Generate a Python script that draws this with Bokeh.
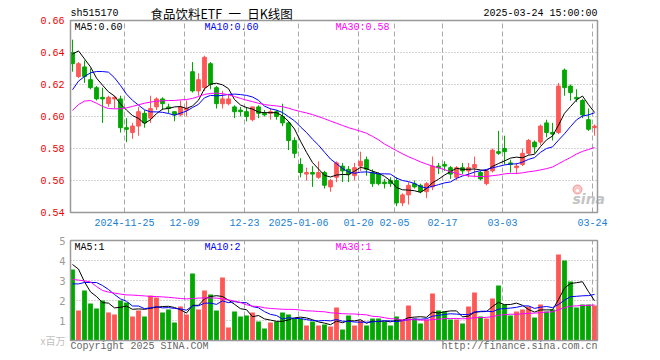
from bokeh.plotting import figure
from bokeh.models import Range1d, ColumnDataSource
from bokeh.core.properties import value
from bokeh.embed import file_html
from bokeh.resources import INLINE

# ---------------- data ----------------
dates = [
    "2024-11-12", "2024-11-13", "2024-11-14", "2024-11-15", "2024-11-18", "2024-11-19", "2024-11-20",
    "2024-11-21", "2024-11-22", "2024-11-25", "2024-11-26", "2024-11-27", "2024-11-28", "2024-11-29",
    "2024-12-02", "2024-12-03", "2024-12-04", "2024-12-05", "2024-12-06", "2024-12-09", "2024-12-10",
    "2024-12-11", "2024-12-12", "2024-12-13", "2024-12-16", "2024-12-17", "2024-12-18", "2024-12-19",
    "2024-12-20", "2024-12-23", "2024-12-24", "2024-12-25", "2024-12-26", "2024-12-27", "2024-12-30",
    "2024-12-31", "2025-01-02", "2025-01-03", "2025-01-06", "2025-01-07", "2025-01-08", "2025-01-09",
    "2025-01-10", "2025-01-13", "2025-01-14", "2025-01-15", "2025-01-16", "2025-01-17", "2025-01-20",
    "2025-01-21", "2025-01-22", "2025-01-23", "2025-01-24", "2025-01-27", "2025-02-05", "2025-02-06",
    "2025-02-07", "2025-02-10", "2025-02-11", "2025-02-12", "2025-02-13", "2025-02-14", "2025-02-17",
    "2025-02-18", "2025-02-19", "2025-02-20", "2025-02-21", "2025-02-24", "2025-02-25", "2025-02-26",
    "2025-02-27", "2025-02-28", "2025-03-03", "2025-03-04", "2025-03-05", "2025-03-06", "2025-03-07",
    "2025-03-10", "2025-03-11", "2025-03-12", "2025-03-13", "2025-03-14", "2025-03-17", "2025-03-18",
    "2025-03-19", "2025-03-20", "2025-03-21", "2025-03-24",
]

open_ = [0.640, 0.625, 0.631, 0.623, 0.618, 0.612, 0.608, 0.611, 0.611, 0.593,
         0.590, 0.594, 0.602, 0.599, 0.606, 0.611, 0.606, 0.603, 0.601, 0.604,
         0.628, 0.616, 0.618, 0.633, 0.618, 0.608, 0.608, 0.606, 0.604, 0.603,
         0.598, 0.606, 0.602, 0.602, 0.603, 0.600, 0.596, 0.585, 0.570, 0.564,
         0.565, 0.562, 0.565, 0.556, 0.562, 0.569, 0.567, 0.563, 0.569, 0.573,
         0.565, 0.564, 0.559, 0.560, 0.560, 0.546, 0.551, 0.558, 0.557, 0.553,
         0.556, 0.569, 0.570, 0.568, 0.562, 0.568, 0.566, 0.568, 0.565, 0.558,
         0.566, 0.578, 0.580, 0.571, 0.568, 0.570, 0.577, 0.584, 0.584, 0.596,
         0.590, 0.590, 0.629, 0.619, 0.612, 0.610, 0.598, 0.593]
high = [0.648, 0.634, 0.635, 0.630, 0.619, 0.618, 0.613, 0.613, 0.613, 0.599,
        0.596, 0.606, 0.604, 0.613, 0.612, 0.612, 0.608, 0.603, 0.610, 0.610,
        0.634, 0.627, 0.638, 0.634, 0.619, 0.616, 0.614, 0.607, 0.606, 0.606,
        0.606, 0.607, 0.604, 0.605, 0.604, 0.608, 0.597, 0.587, 0.574, 0.568,
        0.569, 0.572, 0.566, 0.561, 0.572, 0.571, 0.569, 0.571, 0.578, 0.575,
        0.567, 0.565, 0.561, 0.562, 0.562, 0.552, 0.559, 0.560, 0.558, 0.559,
        0.575, 0.571, 0.572, 0.569, 0.569, 0.571, 0.571, 0.575, 0.566, 0.567,
        0.580, 0.591, 0.588, 0.573, 0.571, 0.580, 0.586, 0.585, 0.595, 0.598,
        0.596, 0.621, 0.630, 0.620, 0.617, 0.611, 0.605, 0.595]
low = [0.628, 0.624, 0.621, 0.617, 0.610, 0.596, 0.606, 0.605, 0.590, 0.584,
       0.586, 0.588, 0.593, 0.596, 0.604, 0.604, 0.602, 0.597, 0.600, 0.600,
       0.615, 0.613, 0.616, 0.617, 0.605, 0.605, 0.607, 0.599, 0.600, 0.597,
       0.597, 0.599, 0.600, 0.598, 0.598, 0.594, 0.579, 0.574, 0.562, 0.560,
       0.556, 0.561, 0.555, 0.553, 0.559, 0.559, 0.559, 0.560, 0.566, 0.563,
       0.556, 0.557, 0.555, 0.556, 0.544, 0.544, 0.545, 0.555, 0.552, 0.549,
       0.554, 0.564, 0.566, 0.561, 0.560, 0.564, 0.562, 0.562, 0.560, 0.557,
       0.565, 0.576, 0.570, 0.565, 0.564, 0.569, 0.576, 0.577, 0.582, 0.587,
       0.585, 0.589, 0.613, 0.610, 0.609, 0.599, 0.591, 0.588]
close = [0.633, 0.633, 0.625, 0.618, 0.611, 0.611, 0.612, 0.612, 0.593, 0.592,
         0.594, 0.603, 0.596, 0.605, 0.611, 0.608, 0.605, 0.601, 0.606, 0.605,
         0.616, 0.623, 0.637, 0.620, 0.608, 0.611, 0.611, 0.603, 0.603, 0.600,
         0.606, 0.602, 0.601, 0.603, 0.600, 0.596, 0.585, 0.577, 0.565, 0.565,
         0.564, 0.565, 0.557, 0.560, 0.571, 0.566, 0.564, 0.568, 0.572, 0.567,
         0.558, 0.558, 0.558, 0.558, 0.546, 0.551, 0.557, 0.556, 0.553, 0.558,
         0.569, 0.568, 0.569, 0.564, 0.568, 0.566, 0.568, 0.570, 0.561, 0.566,
         0.579, 0.577, 0.578, 0.570, 0.569, 0.577, 0.585, 0.581, 0.594, 0.590,
         0.589, 0.619, 0.618, 0.615, 0.611, 0.601, 0.592, 0.594]
# volume, millions of shares
volume = [3.55, 1.50, 2.50, 1.85, 1.60, 2.00, 1.40, 1.30, 2.00, 1.90,
          1.20, 1.50, 1.20, 2.25, 2.15, 1.40, 1.55, 0.90, 1.70, 1.30,
          3.35, 1.55, 2.50, 2.30, 1.50, 3.15, 0.65, 1.45, 1.20, 1.25,
          1.40, 0.95, 0.60, 0.90, 0.95, 1.40, 1.30, 1.10, 1.10, 0.75,
          0.95, 0.75, 0.80, 0.70, 1.65, 0.55, 1.25, 0.75, 1.00, 0.75,
          1.10, 1.10, 0.95, 0.75, 1.20, 1.05, 1.75, 1.10, 0.85, 1.05,
          2.35, 1.50, 1.45, 1.05, 1.05, 0.85, 1.70, 2.40, 1.20, 1.10,
          2.10, 2.75, 1.80, 1.25, 1.45, 1.55, 1.70, 1.15, 1.80, 1.45,
          1.55, 4.30, 4.00, 2.95, 1.65, 1.80, 1.80, 1.75]

# moving-average values at the left edge (they need days before the window)
ma5_head = [0.639, 0.641, 0.636, 0.631]
ma10_head = [0.6167, 0.6221, 0.6250, 0.6273, 0.6281, 0.6281, 0.6277, 0.6242, 0.6194]
ma30_head = [0.6038, 0.6075, 0.6096, 0.6100, 0.6083, 0.6063, 0.6050, 0.6048, 0.6048, 0.6054,
             0.6063, 0.6073, 0.6083, 0.6090, 0.6096, 0.6098, 0.6100, 0.6100, 0.6104, 0.6106,
             0.6113, 0.6125, 0.6138, 0.6144, 0.6146, 0.6142, 0.6136, 0.6125, 0.6113]
vma5_head = [3.80, 3.57, 2.93, 2.43]
vma10_head = [2.83, 2.83, 2.90, 2.90, 2.90, 2.75, 2.55, 2.30, 2.08]
vma30_head = [3.05, 3.02, 2.98, 2.93, 2.70, 2.50, 2.42, 2.37, 2.32, 2.28,
              2.27, 2.25, 2.23, 2.20, 2.20, 2.18, 2.16, 2.13, 2.10, 2.08,
              2.10, 2.12, 2.13, 2.13, 2.12, 2.08, 2.03, 1.97, 1.90]

tick_dates = ["2024-11-25", "2024-12-09", "2024-12-23", "2025-01-06", "2025-01-20",
              "2025-02-05", "2025-02-17", "2025-03-03", "2025-03-24"]
tick_labels = ["2024-11-25", "12-09", "12-23", "2025-01-06", "01-20",
               "02-05", "02-17", "03-03", "03-24"]
price_ticks = [0.54, 0.56, 0.58, 0.60, 0.62, 0.64, 0.66]
vol_ticks = [1, 2, 3, 4, 5]

symbol = "sh515170"
title = "食品饮料ETF\u2002一\u2002日K线图"
stamp = "2025-03-24 15:00:00"

# ---------------- derived ----------------
N = len(close)
idx = list(range(N))


def moving(series, n, head):
    out = list(head)
    for i in range(n - 1, len(series)):
        out.append(sum(series[i - n + 1:i + 1]) / n)
    return out


ma5 = moving(close, 5, ma5_head)
ma10 = moving(close, 10, ma10_head)
ma30 = moving(close, 30, ma30_head)
vma5 = moving(volume, 5, vma5_head)
vma10 = moving(volume, 10, vma10_head)
vma30 = moving(volume, 30, vma30_head)

RED = "#ff5656"
GREEN = "#00a800"
colors = [RED if c >= o else GREEN for o, c in zip(open_, close)]
src = ColumnDataSource(dict(
    x=idx, o=open_, h=high, l=low, c=close,
    top=[max(o, c) for o, c in zip(open_, close)],
    bot=[min(o, c) for o, c in zip(open_, close)],
    vol=volume, color=colors,
    ma5=ma5, ma10=ma10, ma30=ma30, vma5=vma5, vma10=vma10, vma30=vma30,
))

# ---------------- layout (pixels) ----------------
W, H = 660, 360
LEFT, RIGHT = 70, 597
M_TOP, M_BOT = 20, 212
V_TOP, V_BOT = 240, 340
STEP = 6
P_LO, P_HI = price_ticks[0], price_ticks[-1]
V_LO, V_HI = 0, vol_ticks[-1]

x_at0 = -(LEFT + 2) / STEP


def X(px):
    return x_at0 + px / STEP


m_ppu = (M_BOT - M_TOP) / (P_HI - P_LO)
m_top = P_HI + M_TOP / m_ppu


def YM(py):
    return m_top - py / m_ppu


v_ppu = (V_BOT - V_TOP) / (V_HI - V_LO)
v_top = V_HI + V_TOP / v_ppu


def YV(py):
    return v_top - py / v_ppu


p = figure(width=W, height=H, x_range=Range1d(X(0), X(W)), y_range=Range1d(YM(H), YM(0)),
           output_backend="svg", toolbar_location=None, min_border=0,
           x_axis_location=None, y_axis_location=None)
p.extra_y_ranges = {"vol": Range1d(YV(H), YV(0))}
p.grid.visible = False
p.outline_line_color = None
p.background_fill_color = "white"
p.border_fill_color = "white"

GRID = "#a8a8a8"
FRAME = "#999999"
tick_x = [dates.index(d) - 1 / 3 for d in tick_dates]

# grids - main panel
inner = price_ticks[1:-1]
p.segment(x0=[X(LEFT)] * len(inner), y0=inner, x1=[X(RIGHT)] * len(inner), y1=inner,
          line_color=GRID, line_dash="1 2", line_width=1)
p.segment(x0=tick_x, y0=[P_LO] * len(tick_x), x1=tick_x, y1=[P_HI] * len(tick_x),
          line_color=GRID, line_dash="5 3", line_width=1)
# grids - volume panel
vin = vol_ticks[:-1]
p.segment(x0=[X(LEFT)] * len(vin), y0=vin, x1=[X(RIGHT)] * len(vin), y1=vin,
          line_color=GRID, line_dash="1 2", line_width=1, y_range_name="vol")
p.segment(x0=tick_x, y0=[V_LO] * len(tick_x), x1=tick_x, y1=[V_HI] * len(tick_x),
          line_color=GRID, line_dash="5 3", line_width=1, y_range_name="vol")

# watermark (sina logo)
p.scatter(x=[X(577)], y=[YM(189)], marker="circle", size=9, fill_color="#f7b9b9",
          line_color="#f09a9a", line_width=1, fill_alpha=0.8)
p.scatter(x=[X(577)], y=[YM(190)], marker="circle", size=3, fill_color="white", line_color=None)
p.text(x=[X(572)], y=[YM(198)], text=["sina"], text_font=value("DejaVu Sans"),
       text_font_size="14px", text_font_style="bold italic", text_color="#c4c4c4",
       text_align="left", text_baseline="middle")

# candles
p.segment(x0="x", y0="h", x1="x", y1="l", line_color="color", line_width=1, source=src)
p.vbar(x="x", width=0.62, top="top", bottom="bot", fill_color="color", line_color="color",
       line_width=1, source=src)
p.line("x", "ma5", line_color="black", line_width=1, source=src)
p.line("x", "ma10", line_color="#0000ff", line_width=1, source=src)
p.line("x", "ma30", line_color="#ff00ff", line_width=1, source=src)

# volume
p.vbar(x="x", width=0.8, top="vol", bottom=0, fill_color="color", line_color=None,
       source=src, y_range_name="vol")
p.line("x", "vma5", line_color="black", line_width=1, source=src, y_range_name="vol")
p.line("x", "vma10", line_color="#0000ff", line_width=1, source=src, y_range_name="vol")
p.line("x", "vma30", line_color="#ff00ff", line_width=1, source=src, y_range_name="vol")

# frames
p.quad(left=[X(LEFT)], right=[X(RIGHT)], bottom=[P_LO], top=[P_HI], fill_color=None,
       line_color=FRAME, line_width=1.5)
p.quad(left=[X(LEFT)], right=[X(RIGHT)], bottom=[V_LO], top=[V_HI], fill_color=None,
       line_color=FRAME, line_width=1.5, y_range_name="vol")

MONO = value("Liberation Mono")
CJK = value("Noto Sans CJK SC")

# axis labels
p.text(x=[X(LEFT - 6)] * len(price_ticks), y=price_ticks, text=[f"{v:.2f}" for v in price_ticks],
       text_font=MONO, text_font_size="10px", text_color="#ee0000",
       text_align="right", text_baseline="middle")
p.text(x=[X(LEFT - 5)] * len(vol_ticks), y=vol_ticks, text=[str(v) for v in vol_ticks],
       text_font=value("DejaVu Sans"), text_font_size="10px", text_color="#9a9a9a",
       text_align="right", text_baseline="middle", y_range_name="vol")
p.text(x=[X(LEFT - 5)], y=[V_LO], text=["x百万"], text_font=CJK, text_font_size="10px",
       text_color="#c0c0c0", text_align="right", text_baseline="middle", y_range_name="vol")
p.text(x=tick_x, y=[YM(222)] * len(tick_x), text=tick_labels, text_font=MONO,
       text_font_size="10px", text_color="#1a80d0", text_align="center", text_baseline="middle")

# header
p.text(x=[X(LEFT)], y=[YM(13)], text=[symbol], text_font=MONO, text_font_size="10px",
       text_color="black", text_align="left", text_baseline="middle")
p.text(x=[X(150)], y=[YM(13)], text=[title], text_font=CJK, text_font_size="12.5px",
       text_color="black", text_align="left", text_baseline="middle")
p.text(x=[X(RIGHT)], y=[YM(13)], text=[stamp], text_font=MONO, text_font_size="10px",
       text_color="black", text_align="right", text_baseline="middle")

# MA legends
ma_cols = ["black", "#0000ff", "#ff00ff"]
ma_x = [X(74), X(204), X(335)]
p.text(x=ma_x, y=[YM(27)] * 3,
       text=[f"MA5:{ma5[-1]:.2f}", f"MA10:{ma10[-1]:.2f}", f"MA30:{ma30[-1]:.2f}"],
       text_font=MONO, text_font_size="10px", text_color=ma_cols,
       text_align="left", text_baseline="middle")
p.text(x=ma_x, y=[YM(247)] * 3,
       text=[f"MA5:{int(vma5[-1])}", f"MA10:{int(vma10[-1])}", f"MA30:{int(vma30[-1])}"],
       text_font=MONO, text_font_size="10px", text_color=ma_cols,
       text_align="left", text_baseline="middle")

# footer
p.text(x=[X(LEFT)], y=[YM(346)], text=["Copyright 2025 SINA.COM"], text_font=MONO,
       text_font_size="10px", text_color="#666666", text_align="left", text_baseline="middle")
p.text(x=[X(RIGHT)], y=[YM(346)], text=["http://finance.sina.com.cn"], text_font=MONO,
       text_font_size="10px", text_color="#666666", text_align="right", text_baseline="middle")

open("out.html", "w").write(file_html(p, INLINE))
